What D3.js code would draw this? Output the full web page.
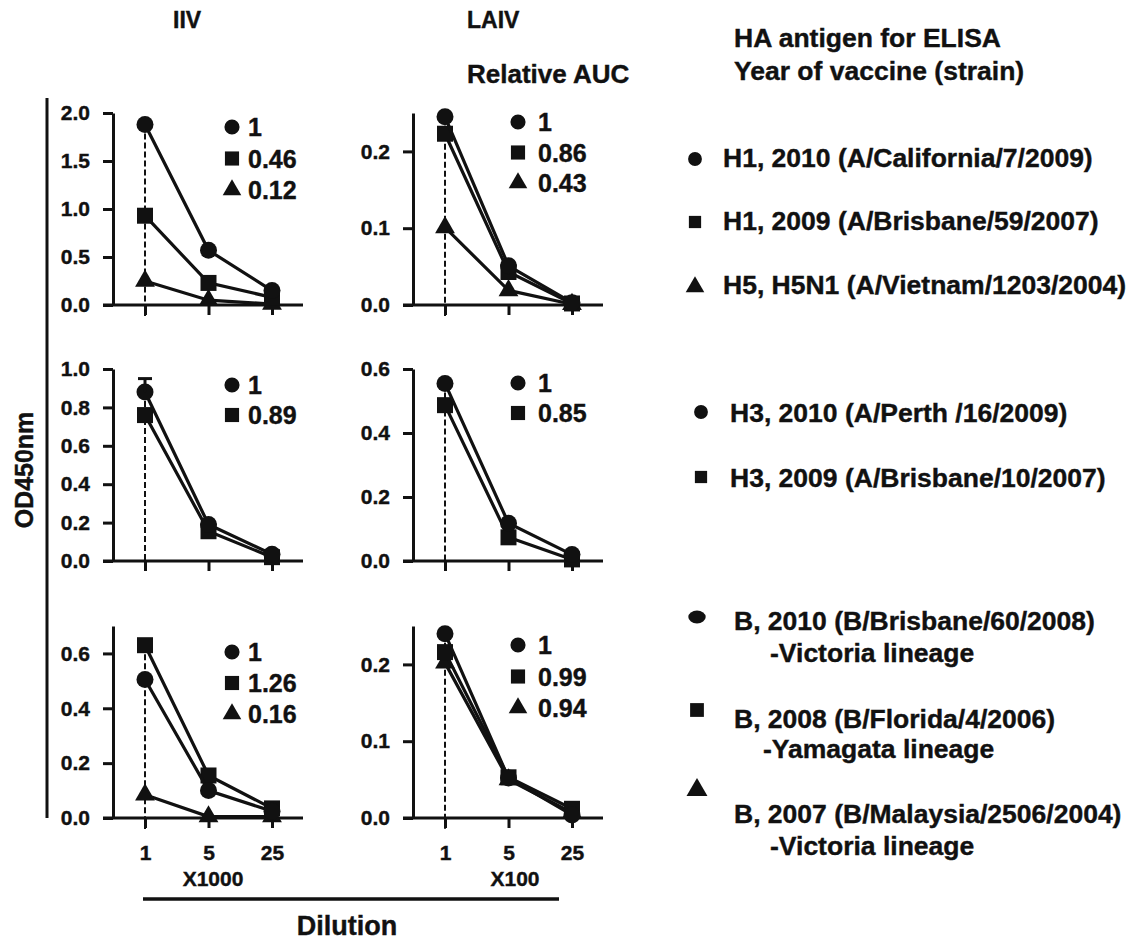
<!DOCTYPE html>
<html>
<head>
<meta charset="utf-8">
<script src="https://cdn.jsdelivr.net/npm/d3@7"></script>
<style>
  body { margin: 0; background: #fff; }
  svg text { font-family: "Liberation Sans", Arial, sans-serif; font-weight: bold; fill: #111; stroke: #111; stroke-width: 0.4px; }
</style>
</head>
<body>
<div id="chart"></div>
<script>
    // dilution steps (x axis)
    const dilutions = [1, 5, 25];

    // OD450nm readings, one array per antigen, read at dilution 1, 5, 25
    const iivH1Cal = [1.88, 0.57, 0.15];
    const iivH1Bris = [0.93, 0.23, 0.08];
    const iivH5Viet = [0.25, 0.05, 0.01];
    const laivH1Cal = [0.245, 0.051, 0.003];
    const laivH1Bris = [0.223, 0.043, 0.002];
    const laivH5Viet = [0.101, 0.019, 0.001];

    const iivH3Perth = [0.88, 0.19, 0.035];
    const iivH3Bris = [0.76, 0.155, 0.02];
    const laivH3Perth = [0.555, 0.118, 0.02];
    const laivH3Bris = [0.487, 0.074, 0.005];

    const iivBBris = [0.505, 0.10, 0.025];
    const iivBFla = [0.63, 0.155, 0.035];
    const iivBMal = [0.085, 0.005, 0.005];
    const laivBBris = [0.24, 0.052, 0.004];
    const laivBFla = [0.216, 0.053, 0.012];
    const laivBMal = [0.202, 0.05, 0.007];

    // error bar (upper) on IIV H3 Perth
    const iivH3PerthErr = [0.07, 0, 0];

    // relative AUC labels
    const iivH1Auc = ["1", "0.46", "0.12"];
    const laivH1Auc = ["1", "0.86", "0.43"];
    const iivH3Auc = ["1", "0.89"];
    const laivH3Auc = ["1", "0.85"];
    const iivBAuc = ["1", "1.26", "0.16"];
    const laivBAuc = ["1", "0.99", "0.94"];

    const legendH1 = ["H1, 2010 (A/California/7/2009)", "H1, 2009 (A/Brisbane/59/2007)", "H5, H5N1 (A/Vietnam/1203/2004)"];
    const legendH3 = ["H3, 2010 (A/Perth /16/2009)", "H3, 2009 (A/Brisbane/10/2007)"];
    const legendB = ["B, 2010 (B/Brisbane/60/2008)", "B, 2008 (B/Florida/4/2006)", "B, 2007 (B/Malaysia/2506/2004)"];
    const legendBSub = ["-Victoria lineage", "-Yamagata lineage", "-Victoria lineage"];

    const svg = d3.select("#chart")
      .append("svg")
        .attr("width", 1127)
        .attr("height", 941);

    const colX = [113, 413];
    const rowY = [113, 369, 626];
    const panelH = 192;
    const markDx = [119, 105];
    const textDx = [135, 125];

    const shapes = [d3.symbolCircle, d3.symbolSquare, d3.symbolTriangle];
    const markSize = [227, 256, 170];
    const keySize = [180, 200, 150];

    const panels = [
      {col: 0, row: 0, yMax: 2.0, ticks: [0, 0.5, 1, 1.5, 2], series: [iivH1Cal, iivH1Bris, iivH5Viet], auc: iivH1Auc, keyTop: 14, keyGap: 31.5},
      {col: 1, row: 0, yMax: 0.25, ticks: [0, 0.1, 0.2], series: [laivH1Cal, laivH1Bris, laivH5Viet], auc: laivH1Auc, keyTop: 9, keyGap: 30.5},
      {col: 0, row: 1, yMax: 1.0, ticks: [0, 0.2, 0.4, 0.6, 0.8, 1.0], series: [iivH3Perth, iivH3Bris], auc: iivH3Auc, keyTop: 16, keyGap: 30, err: iivH3PerthErr},
      {col: 1, row: 1, yMax: 0.6, ticks: [0, 0.2, 0.4, 0.6], series: [laivH3Perth, laivH3Bris], auc: laivH3Auc, keyTop: 14, keyGap: 30},
      {col: 0, row: 2, yMax: 0.7, ticks: [0, 0.2, 0.4, 0.6], series: [iivBBris, iivBFla, iivBMal], auc: iivBAuc, keyTop: 26, keyGap: 31},
      {col: 1, row: 2, yMax: 0.25, ticks: [0, 0.1, 0.2], series: [laivBBris, laivBFla, laivBMal], auc: laivBAuc, keyTop: 19, keyGap: 31.5}
    ];

    const xScale = d3.scaleLog()
      .domain([1, 25])
      .range([32, 159]);

    panels.forEach(p => {
      const g = svg.append("g")
        .attr("transform", `translate(${colX[p.col]}, ${rowY[p.row]})`);

      const yScale = d3.scaleLinear()
        .domain([0, p.yMax])
        .range([panelH, 0]);

      // x axis line, extends a bit left of the y axis
      g.append("line")
        .attr("x1", -10)
        .attr("x2", 190)
        .attr("y1", panelH)
        .attr("y2", panelH)
        .attr("stroke", "#111")
        .attr("stroke-width", 3);

      const xAxis = d3.axisBottom(xScale)
        .tickValues(dilutions)
        .tickSize(10)
        .tickSizeOuter(0)
        .tickPadding(17)
        .tickFormat(d => p.row === 2 ? d : "");

      const xg = g.append("g")
        .attr("transform", `translate(0, ${panelH})`)
        .call(xAxis);
      xg.select(".domain").remove();
      xg.selectAll("line").attr("stroke", "#111").attr("stroke-width", 3);
      xg.selectAll("text").style("font-size", "21px").attr("fill", "#111");

      const yAxis = d3.axisLeft(yScale)
        .tickValues(p.ticks)
        .tickFormat(d3.format(".1f"))
        .tickSize(10)
        .tickSizeOuter(0)
        .tickPadding(13);

      const yg = g.append("g").call(yAxis);
      yg.select(".domain").attr("stroke", "#111").attr("stroke-width", 3);
      yg.selectAll("line").attr("stroke", "#111").attr("stroke-width", 3);
      yg.selectAll("text").style("font-size", "21px").attr("fill", "#111");

      // dashed guide at dilution 1
      const top = d3.max(p.series, s => s[0]);
      g.append("line")
        .attr("x1", xScale(1))
        .attr("x2", xScale(1))
        .attr("y1", yScale(top))
        .attr("y2", panelH + 11)
        .attr("stroke", "#111")
        .attr("stroke-width", 2)
        .attr("stroke-dasharray", "6,3");

      const line = d3.line()
        .x((d, i) => xScale(dilutions[i]))
        .y(d => yScale(d));

      p.series.slice().reverse().forEach((s, ri) => {
        const si = p.series.length - 1 - ri;
        g.append("path")
          .datum(s)
          .attr("d", line)
          .attr("fill", "none")
          .attr("stroke", "#111")
          .attr("stroke-width", 3.2);

        g.selectAll(`.mark-${si}`)
          .data(s)
          .enter()
          .append("path")
            .attr("class", `mark-${si}`)
            .attr("transform", (d, i) => `translate(${xScale(dilutions[i])}, ${yScale(d)})`)
            .attr("d", d3.symbol().type(shapes[si]).size(markSize[si]))
            .attr("fill", "#111");
      });

      if (p.err) {
        p.err.forEach((e, i) => {
          if (!e) return;
          const v = p.series[0][i];
          g.append("line")
            .attr("x1", xScale(dilutions[i]))
            .attr("x2", xScale(dilutions[i]))
            .attr("y1", yScale(v))
            .attr("y2", yScale(v + e))
            .attr("stroke", "#111")
            .attr("stroke-width", 3);
          g.append("line")
            .attr("x1", xScale(dilutions[i]) - 7)
            .attr("x2", xScale(dilutions[i]) + 7)
            .attr("y1", yScale(v + e))
            .attr("y2", yScale(v + e))
            .attr("stroke", "#111")
            .attr("stroke-width", 3);
        });
      }

      // relative AUC key
      p.auc.forEach((t, i) => {
        const ky = p.keyTop + i * p.keyGap;
        g.append("path")
          .attr("transform", `translate(${markDx[p.col]}, ${ky})`)
          .attr("d", d3.symbol().type(shapes[i]).size(keySize[i]))
          .attr("fill", "#111");
        g.append("text")
          .attr("x", textDx[p.col])
          .attr("y", ky)
          .attr("dy", "0.36em")
          .style("font-size", "25px")
          .text(t);
      });
    });

    // column titles
    svg.append("text").attr("x", 173).attr("y", 28).style("font-size", "23px").text("IIV");
    svg.append("text").attr("x", 467).attr("y", 28).style("font-size", "23px").text("LAIV");
    svg.append("text").attr("x", 467).attr("y", 83).style("font-size", "26px").text("Relative AUC");

    // y label and bracket
    svg.append("line")
      .attr("x1", 47).attr("x2", 47)
      .attr("y1", 98).attr("y2", 818)
      .attr("stroke", "#111")
      .attr("stroke-width", 3);

    svg.append("text")
      .attr("transform", "translate(24, 470) rotate(-90)")
      .attr("text-anchor", "middle")
      .attr("dy", "0.36em")
      .style("font-size", "25px")
      .text("OD450nm");

    // dilution multipliers
    svg.append("text").attr("x", 213).attr("y", 886).attr("text-anchor", "middle").style("font-size", "21px").text("X1000");
    svg.append("text").attr("x", 515).attr("y", 886).attr("text-anchor", "middle").style("font-size", "21px").text("X100");

    svg.append("line")
      .attr("x1", 143).attr("x2", 559)
      .attr("y1", 899).attr("y2", 899)
      .attr("stroke", "#111")
      .attr("stroke-width", 3.5);

    svg.append("text")
      .attr("x", 347)
      .attr("y", 935)
      .attr("text-anchor", "middle")
      .style("font-size", "27px")
      .text("Dilution");

    // right-hand legend
    svg.append("text").attr("x", 734).attr("y", 47).style("font-size", "26.5px").text("HA antigen for ELISA");
    svg.append("text").attr("x", 734).attr("y", 80).style("font-size", "26.5px").text("Year of vaccine (strain)");

    const legendItems = [
      {label: legendH1[0], shape: 0, mx: 695, my: 159, tx: 723, ty: 167},
      {label: legendH1[1], shape: 1, mx: 695, my: 222, tx: 723, ty: 230},
      {label: legendH1[2], shape: 2, mx: 695, my: 287, tx: 723, ty: 294},
      {label: legendH3[0], shape: 0, mx: 701, my: 412, tx: 730, ty: 422},
      {label: legendH3[1], shape: 1, mx: 701, my: 477, tx: 730, ty: 487},
      {label: legendB[0], shape: 0, mx: 697, my: 617, tx: 734, ty: 630, sub: legendBSub[0], sx: 770, sy: 662},
      {label: legendB[1], shape: 1, mx: 697, my: 710, tx: 734, ty: 728, sub: legendBSub[1], sx: 763, sy: 758},
      {label: legendB[2], shape: 2, mx: 697, my: 790, tx: 734, ty: 823, sub: legendBSub[2], sx: 770, sy: 855}
    ];

    legendItems.forEach(d => {
      svg.append("path")
        .attr("transform", `translate(${d.mx}, ${d.my})` + (d.shape === 0 && d.sub ? " scale(1.35,1)" : ""))
        .attr("d", d3.symbol().type(shapes[d.shape]).size(d.sub ? (d.shape === 0 ? 130 : 190) : 150))
        .attr("fill", "#111");
      svg.append("text")
        .attr("x", d.tx)
        .attr("y", d.ty)
        .style("font-size", "26.5px")
        .text(d.label);
      if (d.sub) {
        svg.append("text")
          .attr("x", d.sx)
          .attr("y", d.sy)
          .style("font-size", "26.5px")
          .text(d.sub);
      }
    });
</script>
</body>
</html>
